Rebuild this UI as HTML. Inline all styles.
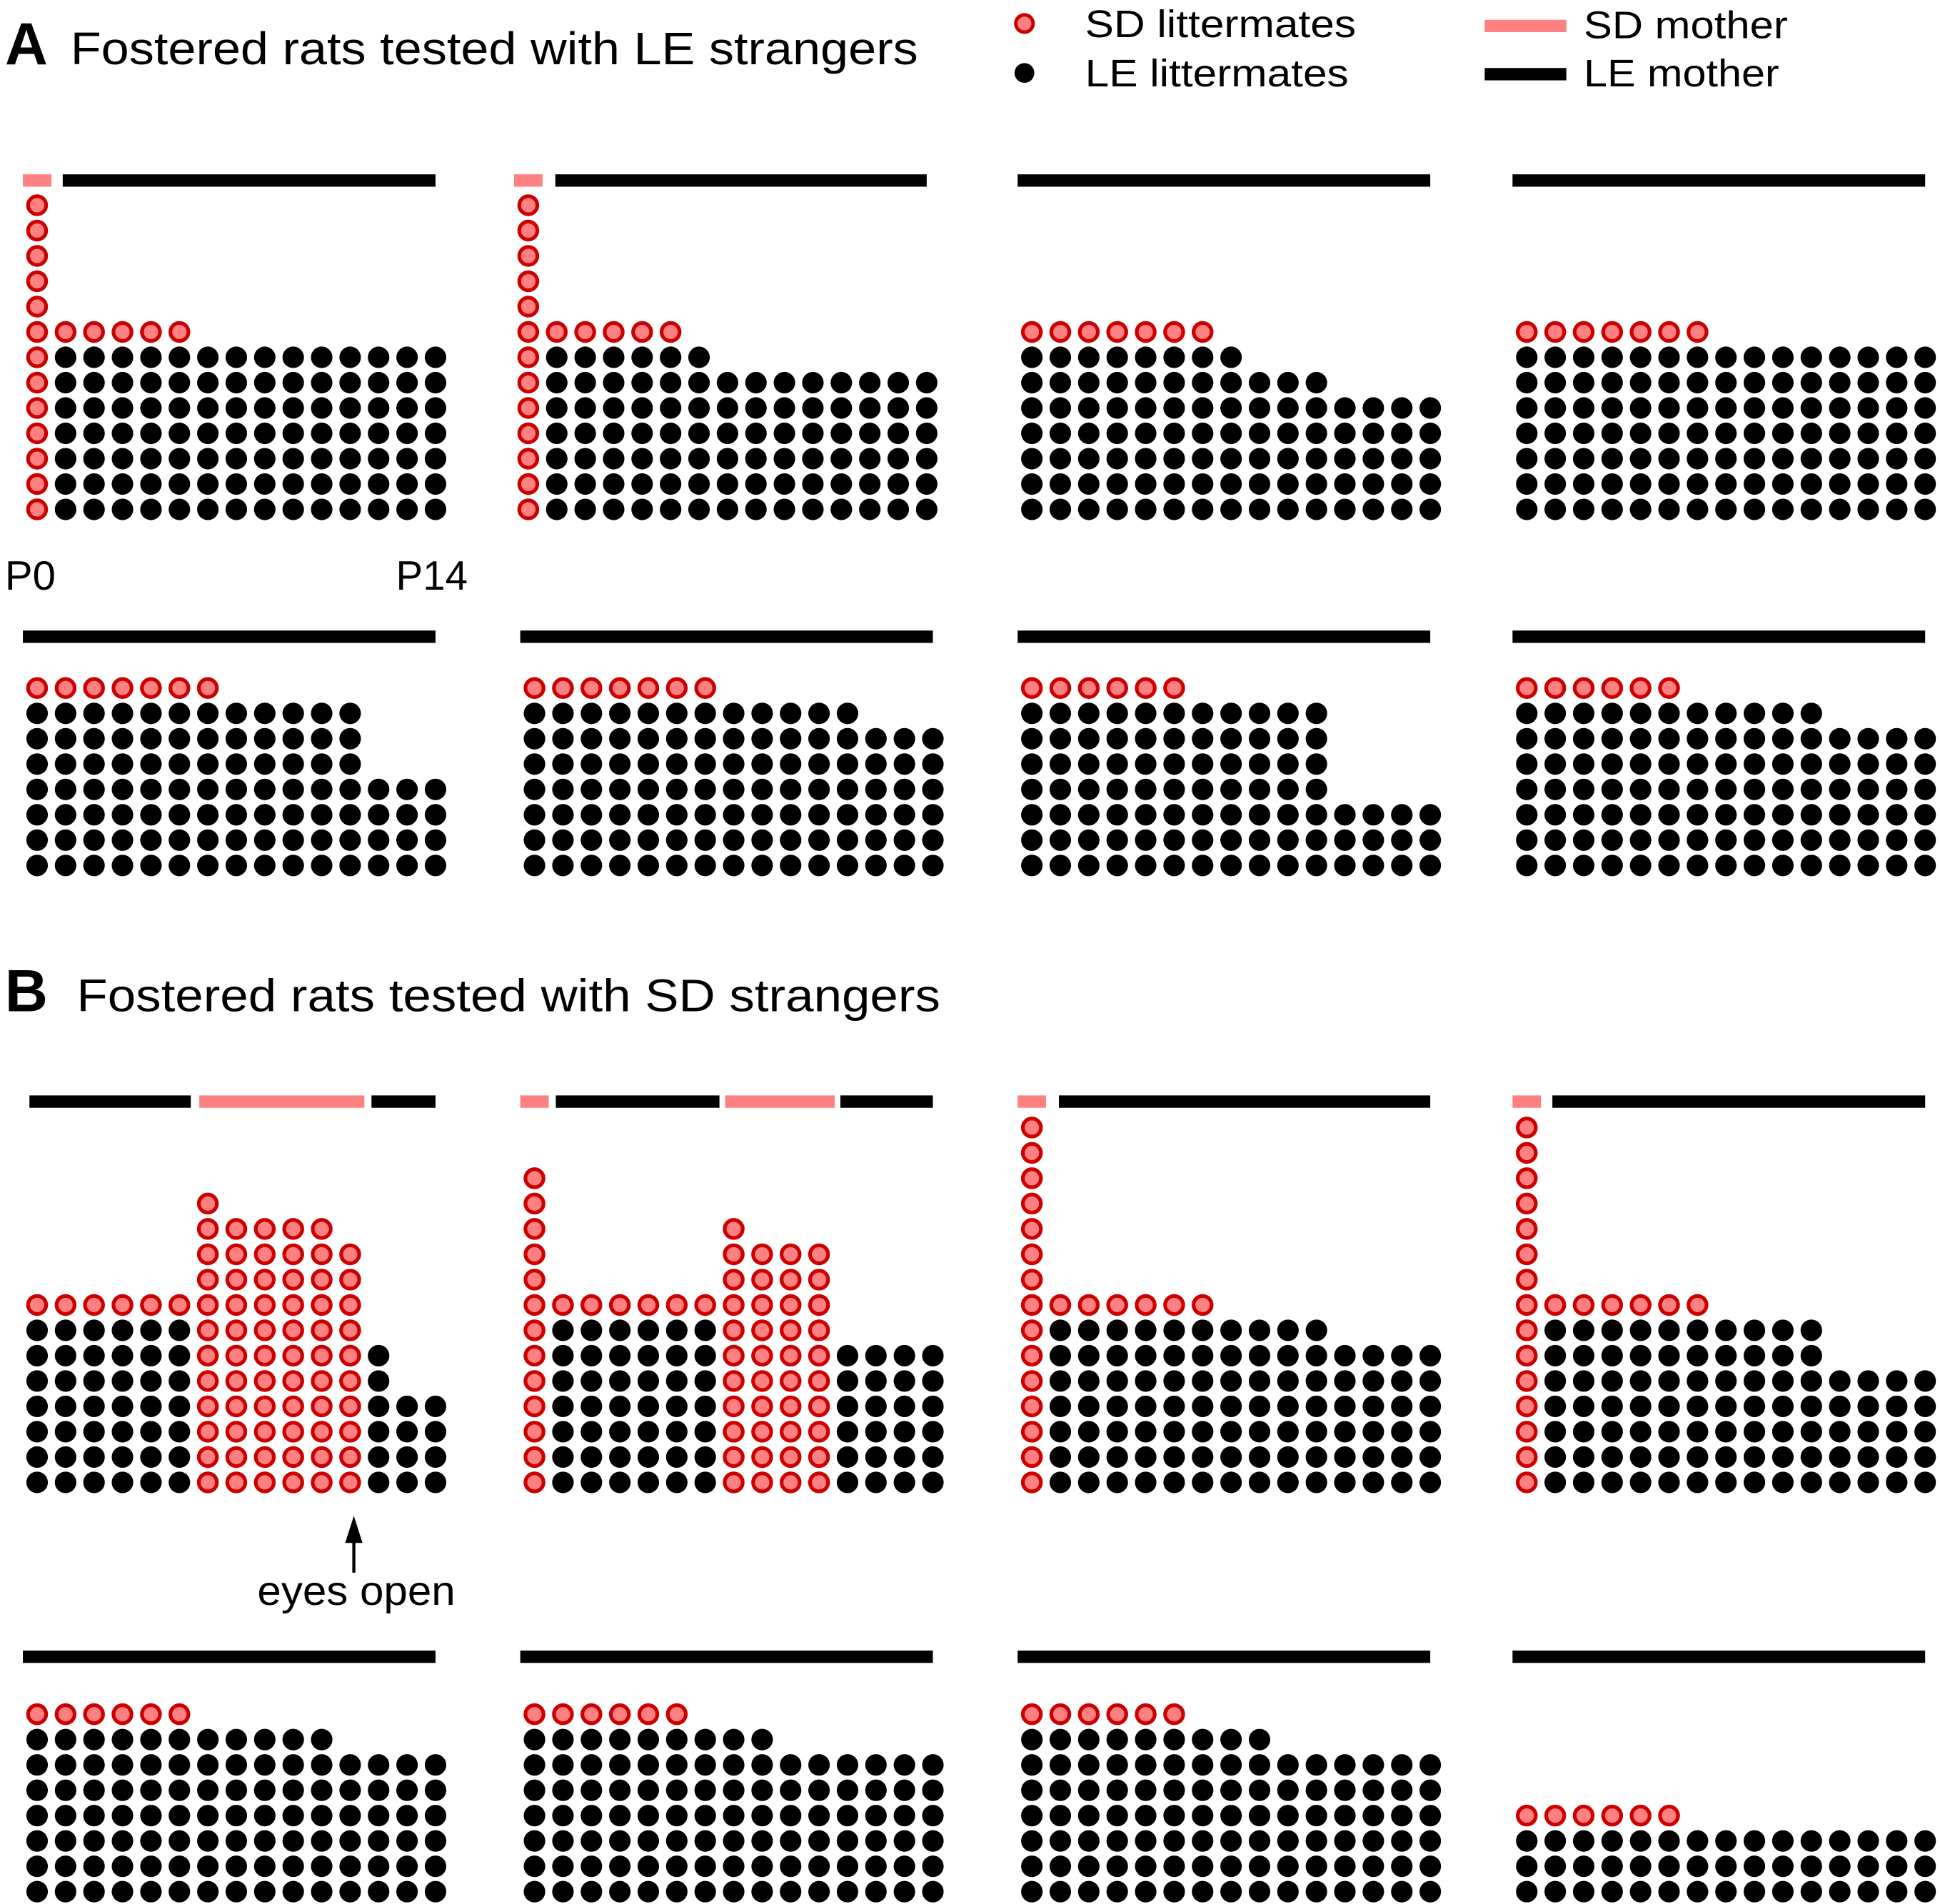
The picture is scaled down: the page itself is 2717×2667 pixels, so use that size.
<!DOCTYPE html>
<html><head><meta charset="utf-8"><style>
html,body{margin:0;padding:0;background:#fff;}
svg{display:block;}
text{font-family:"Liberation Sans",sans-serif;fill:#000;}
</style></head><body>
<svg id="fig" width="2717" height="2667" viewBox="0 0 1568 1540" preserveAspectRatio="none" xmlns="http://www.w3.org/2000/svg">
<text x="4" y="52" font-size="48" font-weight="bold">A</text>
<text x="57" y="52" font-size="37" textLength="685" lengthAdjust="spacingAndGlyphs">Fostered rats tested with LE strangers</text>
<text x="4" y="818" font-size="48" font-weight="bold">B</text>
<text x="62" y="818" font-size="37" textLength="698" lengthAdjust="spacingAndGlyphs">Fostered rats tested with SD strangers</text>
<g>
<circle cx="828" cy="19" r="7" fill="#ff8080" stroke="#cc0000" stroke-width="2.8"/>
<text x="877" y="30" font-size="31" textLength="219" lengthAdjust="spacingAndGlyphs">SD littermates</text>
<circle cx="828" cy="59" r="8" fill="#000"/>
<text x="877" y="70" font-size="31" textLength="213" lengthAdjust="spacingAndGlyphs">LE littermates</text>
<rect x="1200" y="16" width="66" height="10" fill="#ff8080"/>
<text x="1280" y="31" font-size="31" textLength="165" lengthAdjust="spacingAndGlyphs">SD mother</text>
<rect x="1200" y="55" width="66" height="10" fill="#000"/>
<text x="1280" y="70" font-size="31" textLength="158" lengthAdjust="spacingAndGlyphs">LE mother</text>
</g>
<text x="4" y="477" font-size="33" textLength="41" lengthAdjust="spacingAndGlyphs">P0</text>
<text x="320" y="477" font-size="33" textLength="58" lengthAdjust="spacingAndGlyphs">P14</text>
<g>
<line x1="286" y1="1272" x2="286" y2="1240" stroke="#000" stroke-width="2.5"/>
<polygon points="286,1226 279,1248 293,1248" fill="#000"/>
<text x="208" y="1298" font-size="33" textLength="160" lengthAdjust="spacingAndGlyphs">eyes open</text>
</g>
</svg>
<script>
// Per-panel daily counts (15 days, P0..P14): black = LE littermates, red = SD littermates
const blackCounts = [
 [0,7,7,7,7,7,7,7,7,7,7,7,7,7,7],
 [0,7,7,7,7,7,7,6,6,6,6,6,6,6,6],
 [7,7,7,7,7,7,7,7,6,6,6,5,5,5,5],
 [7,7,7,7,7,7,7,7,7,7,7,7,7,7,7],
 [7,7,7,7,7,7,7,7,7,7,7,7,4,4,4],
 [7,7,7,7,7,7,7,7,7,7,7,7,6,6,6],
 [7,7,7,7,7,7,7,7,7,7,7,3,3,3,3],
 [7,7,7,7,7,7,7,7,7,7,7,6,6,6,6],
 [7,7,7,7,7,7,0,0,0,0,0,0,6,4,4],
 [0,7,7,7,7,7,7,0,0,0,0,6,6,6,6],
 [0,7,7,7,7,7,7,7,7,7,7,6,6,6,6],
 [0,7,7,7,7,7,7,7,7,7,7,5,5,5,5],
 [7,7,7,7,7,7,7,7,7,7,7,6,6,6,6],
 [7,7,7,7,7,7,7,7,7,6,6,6,6,6,6],
 [7,7,7,7,7,7,7,7,7,6,6,6,6,6,6],
 [3,3,3,3,3,3,3,3,3,3,3,3,3,3,3]
];
const redCounts = [
 [13,1,1,1,1,1,0,0,0,0,0,0,0,0,0],
 [13,1,1,1,1,1,0,0,0,0,0,0,0,0,0],
 [1,1,1,1,1,1,1,0,0,0,0,0,0,0,0],
 [1,1,1,1,1,1,1,0,0,0,0,0,0,0,0],
 [1,1,1,1,1,1,1,0,0,0,0,0,0,0,0],
 [1,1,1,1,1,1,1,0,0,0,0,0,0,0,0],
 [1,1,1,1,1,1,0,0,0,0,0,0,0,0,0],
 [1,1,1,1,1,1,0,0,0,0,0,0,0,0,0],
 [1,1,1,1,1,1,12,11,11,11,11,10,0,0,0],
 [13,1,1,1,1,1,1,11,10,10,10,0,0,0,0],
 [15,1,1,1,1,1,1,0,0,0,0,0,0,0,0],
 [15,1,1,1,1,1,1,0,0,0,0,0,0,0,0],
 [1,1,1,1,1,1,0,0,0,0,0,0,0,0,0],
 [1,1,1,1,1,1,0,0,0,0,0,0,0,0,0],
 [1,1,1,1,1,1,0,0,0,0,0,0,0,0,0],
 [1,1,1,1,1,1,0,0,0,0,0,0,0,0,0]
];
// Mother segments per panel, in day units: [mother, startDay, endDay]
const motherSegments = [
 [["SD",-0.5,0.5],["LE",0.9,14]],
 [["SD",-0.5,0.5],["LE",0.95,14]],
 [["LE",-0.5,14]],
 [["LE",-0.5,14]],
 [["LE",-0.5,14]],
 [["LE",-0.5,14]],
 [["LE",-0.5,14]],
 [["LE",-0.5,14]],
 [["LE",-0.27,5.4],["SD",5.7,11.5],["LE",11.75,14]],
 [["SD",-0.5,0.5],["LE",0.75,6.5],["SD",6.7,10.55],["LE",10.75,14]],
 [["SD",-0.5,0.5],["LE",0.95,14]],
 [["SD",-0.5,0.5],["LE",0.9,14]],
 [["LE",-0.5,14]],[["LE",-0.5,14]],[["LE",-0.5,14]],[["LE",-0.5,14]]
];
// Layout (not data)
const panelX = [30,427,834,1234, 30,432,834,1234, 30,432,834,1234, 30,432,834,1234];
const rowBase = [412,412,412,412, 700,700,700,700, 1199,1199,1199,1199, 1530,1530,1530,1530];
const rowBar = [146,146,146,146, 515,515,515,515, 891,891,891,891, 1340,1340,1340,1340];
const DX = 23, DY = 20.5;
const NS = "http://www.w3.org/2000/svg";
const svg = document.getElementById('fig');
function xScale(p, d){ return panelX[p] + d*DX; }
function yScale(p, k){ return rowBase[p] - k*DY; }
for (let p = 0; p < 16; p++) {
  const g = document.createElementNS(NS, 'g');
  
  
  svg.appendChild(g);
  motherSegments[p].forEach(s => {
    const r = document.createElementNS(NS, 'rect');
    const x1 = xScale(p, s[1]), x2 = xScale(p, s[2]);
    r.setAttribute('x', x1); r.setAttribute('width', x2 - x1);
    r.setAttribute('y', rowBar[p] - 5); r.setAttribute('height', 10);
    r.setAttribute('fill', s[0] === 'SD' ? '#ff8080' : '#000');
    
    
    g.appendChild(r);
  });
  for (let d = 0; d < 15; d++) {
    const nb = blackCounts[p][d], nr = redCounts[p][d];
    for (let k = 0; k < nb + nr; k++) {
      const c = document.createElementNS(NS, 'circle');
      c.setAttribute('cx', xScale(p, d));
      c.setAttribute('cy', yScale(p, k));
      if (k < nb) {
        c.setAttribute('r', 8.7);
        c.setAttribute('fill', '#000');
        
      } else {
        c.setAttribute('r', 7.3);
        c.setAttribute('fill', '#ff8080');
        c.setAttribute('stroke', '#cc0000');
        c.setAttribute('stroke-width', 3);
        
      }
      
      g.appendChild(c);
    }
  }
}
</script>
</body></html>
